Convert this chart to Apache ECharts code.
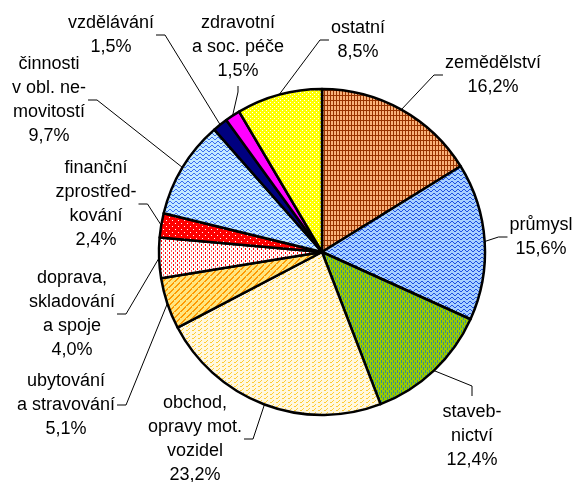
<!DOCTYPE html>
<html>
<head>
<meta charset="utf-8">
<script src="https://cdn.jsdelivr.net/npm/echarts@6/dist/echarts.min.js"></script>
<style>
  html, body { margin: 0; padding: 0; background: #fff; }
  #chart { width: 575px; height: 482px; }
</style>
</head>
<body>
<div id="chart"></div>
<script>
var sectors = ['zemědělství', 'průmysl', 'staveb-\nnictví', 'obchod,\nopravy mot.\nvozidel',
  'ubytování\na stravování', 'doprava,\nskladování\na spoje', 'finanční\nzprostřed-\nkování',
  'činnosti\nv obl. ne-\nmovitostí', 'vzdělávání', 'zdravotní\na soc. péče', 'ostatní'];
var shares = [16.2, 15.6, 12.4, 23.2, 5.1, 4.0, 2.4, 9.7, 1.5, 1.5, 8.5];

// where each label sits: [center x, center y, side the leader line leaves from]
var labelPos = [
  [493, 75, 'left'],
  [541, 237, 'left'],
  [472, 436, 'top'],
  [195, 439, 'right'],
  [66, 405, 'right'],
  [72, 314, 'right'],
  [96, 204, 'right'],
  [49, 100, 'right'],
  [111, 35, 'right'],
  [238, 47, 'bottom'],
  [358, 40, 'left']
];
var cx = 322, cy = 252, r = 163;

// small canvas tiles to imitate the excel fill patterns
function tile(w, h, bg, marks) {
  var c = document.createElement('canvas');
  c.width = w; c.height = h;
  var ctx = c.getContext('2d');
  ctx.fillStyle = bg;
  ctx.fillRect(0, 0, w, h);
  marks.forEach(function (m) {
    ctx.fillStyle = m[0];
    ctx.fillRect(m[1], m[2], m[3], m[4]);
  });
  return { image: c, repeat: 'repeat' };
}
function wave(col) {
  return [[col, 0, 2, 1, 1], [col, 1, 1, 1, 1], [col, 2, 1, 1, 1], [col, 3, 2, 1, 1], [col, 4, 3, 1, 1], [col, 5, 3, 1, 1]];
}
var stripes = [];
for (var i = 0; i < 6; i++) stripes.push(['#FF9900', i, 5 - i, 2, 1]);

var fills = [
  tile(3, 5, '#F9B27A', [['#993300', 0, 0, 1, 5], ['#993300', 0, 0, 3, 1]]),
  tile(6, 4, '#A8D0FF', wave('#1F4FE0')),
  tile(4, 5, '#99CC00', [['#3A8E8A', 1, 0, 1, 3], ['#3A8E8A', 3, 2, 1, 3]]),
  tile(6, 4, '#FFF8E0', [['#FFCC33', 0, 2, 2, 1], ['#FFCC33', 2, 1, 1, 1], ['#FFCC33', 3, 0, 1, 1]]),
  tile(6, 6, '#FFE680', stripes),
  tile(4, 4, '#FFFFFF', [['#FF0000', 1, 0, 1, 2], ['#FF6060', 3, 2, 1, 2]]),
  tile(6, 6, '#FF0000', [['#FFFFFF', 1, 1, 1, 1], ['#FFFFFF', 4, 4, 1, 1]]),
  tile(6, 4, '#C4EAFF', wave('#3A6CF0')),
  '#000080',
  '#FF00FF',
  tile(4, 4, '#FFFF00', [['#FFFFFF', 0, 0, 1, 1], ['#FFFFFF', 2, 2, 1, 1]])
];

// mid angle of each slice, used to hook the leader line onto the rim
var total = shares.reduce(function (a, b) { return a + b; }, 0);
var midAngle = [];
var acc = 0;
shares.forEach(function (v) {
  midAngle.push((acc + v / 2) / total * Math.PI * 2);
  acc += v;
});

var data = sectors.map(function (name, i) {
  return { name: name, value: shares[i], itemStyle: { color: fills[i] } };
});

var myChart = echarts.init(document.getElementById('chart'));
var option = {
  backgroundColor: '#fff',
  animation: false,
  series: [
    {
      type: 'pie',
      center: [cx, cy],
      radius: r,
      startAngle: 90,
      clockwise: true,
      avoidLabelOverlap: false,
      data: data,
      itemStyle: {
        borderColor: '#000',
        borderWidth: 2.5
      },
      label: {
        show: true,
        position: 'outside',
        color: '#000',
        fontFamily: 'Liberation Sans, Arial, sans-serif',
        fontSize: 18,
        lineHeight: 24,
        formatter: function (p) {
          return p.name + '\n' + p.value.toFixed(1).replace('.', ',') + '%';
        }
      },
      labelLine: {
        show: true,
        lineStyle: { color: '#000', width: 1 }
      },
      labelLayout: function (p) {
        var pos = labelPos[p.dataIndex];
        var w = p.labelRect.width, h = p.labelRect.height;
        var ex = pos[0], ey = pos[1], mx = pos[0], my = pos[1];
        if (pos[2] === 'left') { ex = pos[0] - w / 2 - 2; mx = ex - 9; }
        else if (pos[2] === 'right') { ex = pos[0] + w / 2 + 2; mx = ex + 9; }
        else if (pos[2] === 'top') { ey = pos[1] - h / 2 - 4; my = ey - 10; }
        else { ey = pos[1] + h / 2 + 3; my = ey + 6; }
        var a = midAngle[p.dataIndex];
        var anchor = [cx + r * Math.sin(a), cy - r * Math.cos(a)];
        return {
          x: pos[0],
          y: pos[1],
          align: 'center',
          verticalAlign: 'middle',
          labelLinePoints: [anchor, [mx, my], [ex, ey]]
        };
      },
      emphasis: { disabled: true }
    }
  ]
};
myChart.setOption(option);
</script>
</body>
</html>
